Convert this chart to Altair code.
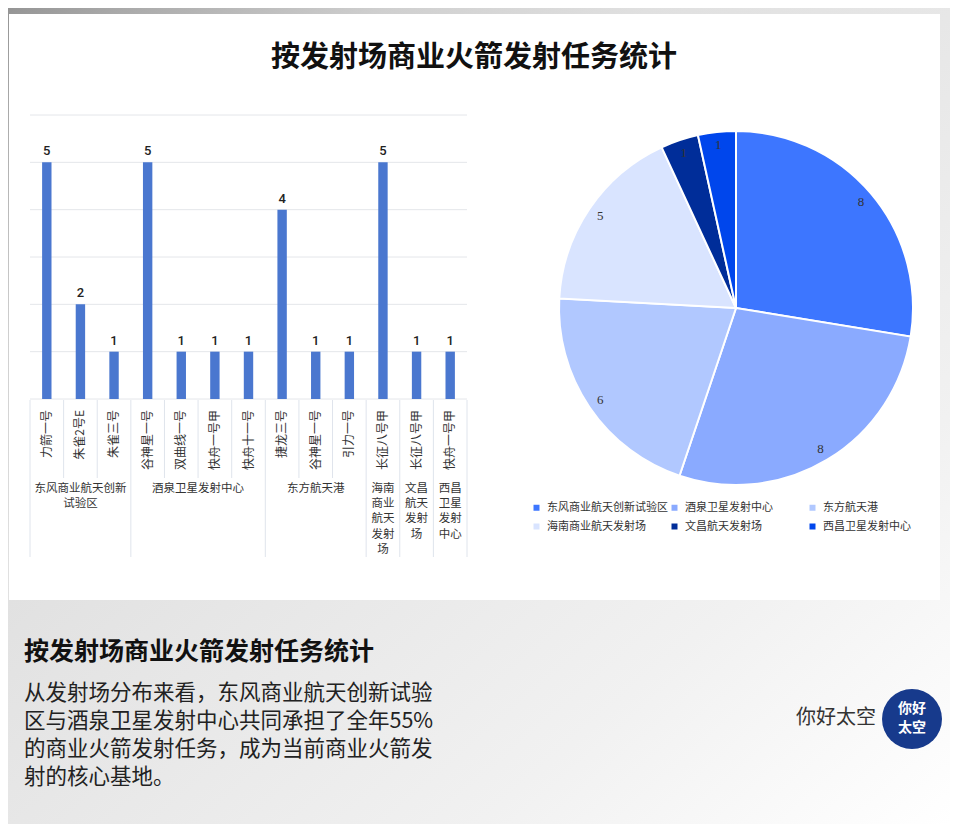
import altair as alt
import pandas as pd

# ---------------- data ----------------
rockets = ["力箭一号", "朱雀2号E", "朱雀三号", "谷神星一号", "双曲线一号", "快舟一号甲",
           "快舟十一号", "捷龙三号", "谷神星一号", "引力一号", "长征八号甲", "长征八号甲", "快舟一号甲"]
launches = [5, 2, 1, 5, 1, 1, 1, 4, 1, 1, 5, 1, 1]
sites = ["东风商业航天创新试验区", "酒泉卫星发射中心", "东方航天港",
         "海南商业航天发射场", "文昌航天发射场", "西昌卫星发射中心"]
site_axis_labels = ["东风商业航天创新\n试验区", "酒泉卫星发射中心", "东方航天港",
                    "海南\n商业\n航天\n发射\n场", "文昌\n航天\n发射\n场", "西昌\n卫星\n发射\n中心"]
rockets_per_site = [3, 4, 3, 1, 1, 1]
site_colors = ["#3d76ff", "#8aaaff", "#b1c8ff", "#d9e4ff", "#002d99", "#0046ec"]
grid_values = [0, 1, 2, 3, 4, 5, 6]

title_text = "按发射场商业火箭发射任务统计"
summary_lines = ["从发射场分布来看，东风商业航天创新试验",
                 "区与酒泉卫星发射中心共同承担了全年55%",
                 "的商业火箭发射任务，成为当前商业火箭发",
                 "射的核心基地。"]
brand_text = "你好太空"
logo_lines = ["你好", "太空"]

# ---------------- derived tables ----------------
site_of = []
starts = []
pos = 0
for s, n in zip(sites, rockets_per_site):
    starts.append(pos)
    site_of += [s] * n
    pos += n
n_rockets = len(rockets)

bar_df = pd.DataFrame({"idx": list(range(n_rockets)), "rocket": rockets,
                       "n": launches, "site": site_of})
bar_df["mid"] = bar_df["idx"] + 0.5

site_df = pd.DataFrame({
    "site": sites,
    "label": site_axis_labels,
    "center": [st + n / 2 for st, n in zip(starts, rockets_per_site)],
    "total": [sum(launches[st:st + n]) for st, n in zip(starts, rockets_per_site)],
    "k": list(range(len(sites))),
})

boundaries = set(starts + [n_rockets])
sep_df = pd.DataFrame({"pos": list(range(n_rockets + 1))})
sep_df["long"] = sep_df["pos"].isin(boundaries)

grid_df = pd.DataFrame({"g": grid_values, "a": 0, "b": n_rockets})

FONT = "Noto Sans CJK SC"
X = alt.Scale(domain=[0, n_rockets], range=[17, 464], nice=False, zero=False)
Y = alt.Scale(domain=[0, 6], range=[391, 107], nice=False)
one = alt.Data(values=[{}])

# ---------------- background ----------------
bg = alt.Chart(one).mark_rect(
    fill=alt.LinearGradient(
        gradient="linear",
        stops=[alt.GradientStop(color="#959595", offset=0),
               alt.GradientStop(color="#a9a9a9", offset=0.06),
               alt.GradientStop(color="#cfcfcf", offset=0.2),
               alt.GradientStop(color="#e0e0e0", offset=0.34),
               alt.GradientStop(color="#e6e6e6", offset=0.48),
               alt.GradientStop(color="#f1f1f1", offset=0.75),
               alt.GradientStop(color="#ffffff", offset=1)],
        x1=0, y1=0, x2=1, y2=1)
).encode(x=alt.value(0), x2=alt.value(942), y=alt.value(0), y2=alt.value(816))

card = alt.Chart(one).mark_rect(fill="white").encode(
    x=alt.value(1), x2=alt.value(932), y=alt.value(6), y2=alt.value(592))

title = alt.Chart(one).mark_text(
    text=title_text, font=FONT, fontSize=29, fontWeight="bold", color="#111",
    align="center", baseline="middle"
).encode(x=alt.value(466), y=alt.value(50))

# ---------------- bar chart ----------------
grid = alt.Chart(grid_df).mark_rule(color="#e4e6ea", strokeWidth=1).encode(
    x=alt.X("a:Q", scale=X, axis=None), x2="b:Q",
    y=alt.Y("g:Q", scale=Y, axis=None))

bars = alt.Chart(bar_df).mark_bar(color="#4a77cf", size=9.4).encode(
    x=alt.X("mid:Q", scale=X, axis=None),
    y=alt.Y("n:Q", scale=Y, axis=None), y2=alt.datum(0))

bar_labels = alt.Chart(bar_df).mark_text(
    font="Roboto", fontSize=13, fontWeight=500, color="#222", baseline="bottom", dy=-4
).encode(x=alt.X("mid:Q", scale=X, axis=None),
         y=alt.Y("n:Q", scale=Y, axis=None), text="n:Q")

cat_labels = alt.Chart(bar_df).mark_text(
    font=FONT, fontSize=12, color="#333", angle=270, align="right", baseline="middle"
).encode(x=alt.X("mid:Q", scale=X, axis=None), y=alt.value(402), text="rocket:N")

sep_short = alt.Chart(sep_df[~sep_df["long"]]).mark_rule(color="#dfe4ec").encode(
    x=alt.X("pos:Q", scale=X, axis=None), y=alt.value(392), y2=alt.value(470))
sep_long = alt.Chart(sep_df[sep_df["long"]]).mark_rule(color="#dfe4ec").encode(
    x=alt.X("pos:Q", scale=X, axis=None), y=alt.value(392), y2=alt.value(549))

site_labels = alt.Chart(site_df).mark_text(
    font=FONT, fontSize=11.5, color="#333", lineBreak="\n", lineHeight=15.2,
    align="center", baseline="top"
).encode(x=alt.X("center:Q", scale=X, axis=None), y=alt.value(475), text="label:N")

# ---------------- pie chart ----------------
color = alt.Color("site:N", scale=alt.Scale(domain=sites, range=site_colors),
                  legend=alt.Legend(
                      title=None, orient="none", legendX=523, legendY=494, columns=3,
                      direction="horizontal",
                      symbolType="square", symbolSize=36, symbolStrokeWidth=0,
                      labelFont=FONT, labelFontSize=11, labelColor="#333",
                      labelOffset=5, gridAlign="all", columnPadding=1, rowPadding=7,
                      padding=0, labelLimit=200))

pie = alt.Chart(site_df).mark_arc(radius=177, stroke="white", strokeWidth=2).encode(
    theta=alt.Theta("total:Q", stack=True), color=color,
    order=alt.Order("k:Q"), x=alt.value(728), y=alt.value(300))

pie_labels = alt.Chart(site_df).mark_text(
    radius=164, font="Liberation Serif", fontSize=13, color="#333"
).encode(theta=alt.Theta("total:Q", stack=True), detail="site:N",
         order=alt.Order("k:Q"), text="total:Q", x=alt.value(728), y=alt.value(300))

# ---------------- bottom text ----------------
sub_title = alt.Chart(one).mark_text(
    text=title_text, font=FONT, fontSize=25, fontWeight="bold", color="#111",
    align="left", baseline="middle"
).encode(x=alt.value(16), y=alt.value(644))

summary_layers = [
    alt.Chart(one).mark_text(
        text=line, font=FONT, fontSize=21.5, color="#222", align="left", baseline="middle"
    ).encode(x=alt.value(16), y=alt.value(686 + 28 * i))
    for i, line in enumerate(summary_lines)
]

brand = alt.Chart(one).mark_text(
    text=brand_text, font=FONT, fontSize=20, color="#333", align="right", baseline="middle"
).encode(x=alt.value(868), y=alt.value(710))

logo = alt.Chart(one).mark_point(
    shape="circle", filled=True, size=3600, color="#173a8c", opacity=1
).encode(x=alt.value(904), y=alt.value(711))

logo_text_layers = [
    alt.Chart(one).mark_text(
        text=line, font=FONT, fontSize=14, fontWeight="bold", color="white",
        align="center", baseline="middle"
    ).encode(x=alt.value(904), y=alt.value(701 + 19 * i))
    for i, line in enumerate(logo_lines)
]

chart = alt.layer(
    bg, card, title, grid, sep_short, sep_long, bars, bar_labels, cat_labels,
    site_labels, pie, pie_labels, sub_title, *summary_layers, brand, logo,
    *logo_text_layers
).properties(
    width=944, height=816, padding=0, autosize=alt.AutoSizeParams(type="none")
).configure_view(stroke=None)

chart.save("out.html", embed_options={"renderer": "svg", "actions": False})
